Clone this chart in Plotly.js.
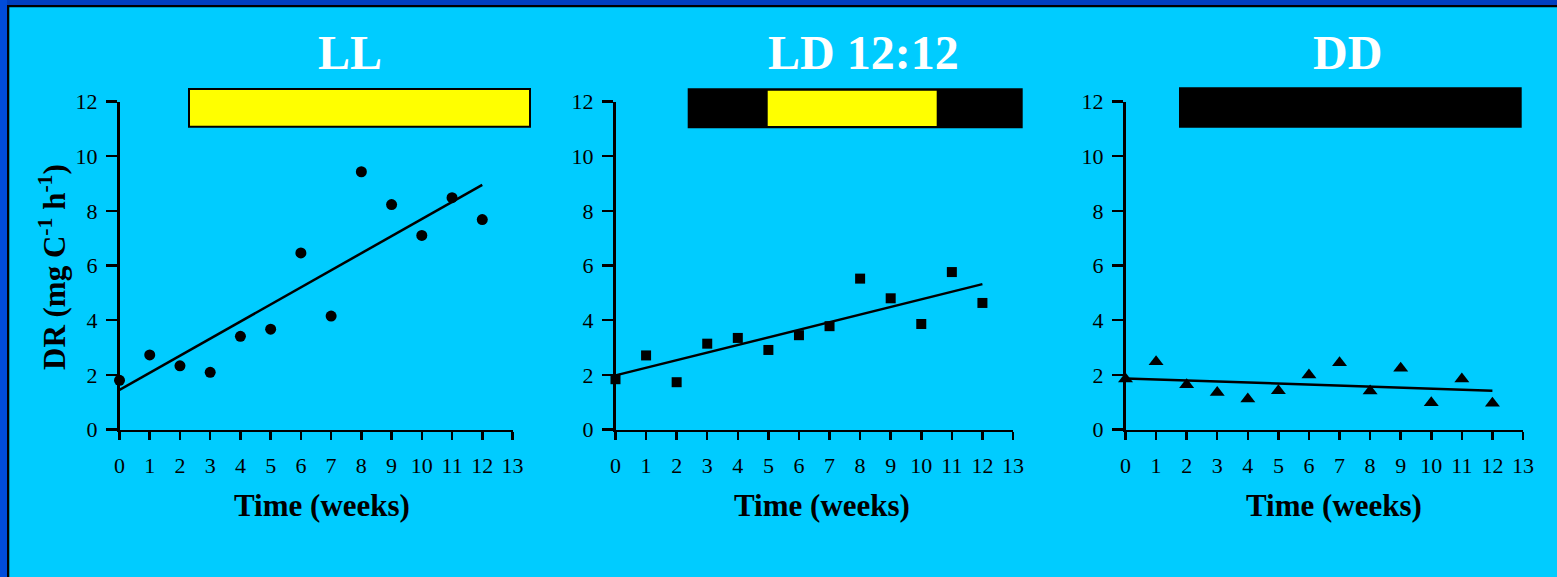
<!DOCTYPE html>
<html>
<head>
<meta charset="utf-8">
<script src="https://cdn.plot.ly/plotly-3.0.1.min.js"></script>
<style>
  html, body { margin: 0; padding: 0; background: #00CCFF; }
  #chart { width: 1557px; height: 577px; }
</style>
</head>
<body>
<div id="chart"></div>
<script>
// ---- data ----
const weeks = [0, 1, 2, 3, 4, 5, 6, 7, 8, 9, 10, 11, 12];
const xTickVals = [0, 1, 2, 3, 4, 5, 6, 7, 8, 9, 10, 11, 12, 13];
const yTickVals = [0, 2, 4, 6, 8, 10, 12];
const panelTitles = ["LL", "LD 12:12", "DD"];
const xAxisTitle = "Time (weeks)";
const yAxisTitle = "DR (mg C<sup>-1</sup> h<sup>-1</sup>)";

const llDR = [1.80, 2.73, 2.33, 2.09, 3.41, 3.67, 6.46, 4.15, 9.43, 8.23, 7.10, 8.48, 7.68];
const ldDR = [1.84, 2.71, 1.73, 3.14, 3.35, 2.91, 3.45, 3.78, 5.52, 4.80, 3.86, 5.76, 4.63];
const ddDR = [1.85, 2.48, 1.64, 1.35, 1.12, 1.42, 1.99, 2.44, 1.41, 2.24, 0.98, 1.85, 0.96];

const fitWeeks = [0, 12];
const llFit = [1.45, 8.95];
const ldFit = [1.98, 5.32];
const ddFit = [1.87, 1.42];

// ---- layout helpers ----
const W = 1557, H = 577;
const px = v => v / W;
const py = v => 1 - v / H;
const SERIF = "Liberation Serif, Times New Roman, serif";
const CYAN = "#00CCFF";

const xDomains = [[px(119.5), px(512.5)], [px(615.5), px(1013)], [px(1125.5), px(1523)]];
const yDomain = [py(429.5), py(101.5)];

function xAxis(i) {
  return {
    domain: xDomains[i], range: [0, 13], anchor: i === 0 ? "y" : "y" + (i + 1),
    tickmode: "array", tickvals: xTickVals, ticktext: xTickVals.map(String),
    showline: true, linecolor: "black", linewidth: 2.5,
    ticks: "outside", ticklen: 8, tickwidth: 2.5, tickcolor: "black",
    ticklabelstandoff: 7,
    showgrid: false, zeroline: false, fixedrange: true,
    tickfont: { family: SERIF, size: 22, color: "black" }
  };
}
function yAxis(i) {
  return {
    domain: yDomain, range: [0, 12], anchor: i === 0 ? "x" : "x" + (i + 1),
    tickmode: "array", tickvals: yTickVals, ticktext: yTickVals.map(String),
    showline: true, linecolor: "black", linewidth: 2.5,
    ticks: "outside", ticklen: 11, tickwidth: 2.5, tickcolor: "black",
    ticklabelstandoff: 4,
    showgrid: false, zeroline: false, fixedrange: true,
    tickfont: { family: SERIF, size: 22, color: "black" }
  };
}

const series = [
  { y: llDR, fit: llFit, symbol: "circle", size: 11 },
  { y: ldDR, fit: ldFit, symbol: "square", size: 10 },
  { y: ddDR, fit: ddFit, symbol: "triangle-up", size: 13 }
];

const traces = [];
series.forEach((s, i) => {
  const xa = i === 0 ? "x" : "x" + (i + 1);
  const ya = i === 0 ? "y" : "y" + (i + 1);
  traces.push({
    x: fitWeeks, y: s.fit, xaxis: xa, yaxis: ya, type: "scatter", mode: "lines",
    line: { color: "black", width: 2.5 }, cliponaxis: false, hoverinfo: "skip", showlegend: false
  });
  traces.push({
    x: weeks, y: s.y, xaxis: xa, yaxis: ya, type: "scatter", mode: "markers",
    marker: { color: "black", symbol: s.symbol, size: s.size, line: { width: 0 } },
    cliponaxis: false, showlegend: false
  });
});

function rect(x0, x1, y0, y1, fill, lineW) {
  return {
    type: "rect", xref: "paper", yref: "paper",
    x0: px(x0), x1: px(x1), y0: py(y1), y1: py(y0),
    fillcolor: fill, line: { color: "black", width: lineW || 0 }, layer: "above"
  };
}

const shapes = [
  // frame
  rect(0, W, 0, 5, "#0040C0"),
  rect(0, W, 5, 7.3, "black"),
  rect(0, 7, 0, H, "#004CDA"),
  rect(7, 9.3, 5, H, "black"),
  // light regime bars
  rect(189, 530, 89, 126.7, "#FFFF00", 2),
  rect(687.7, 1022.7, 88.3, 128.3, "black"),
  rect(767.7, 936.7, 90.7, 126, "#FFFF00"),
  rect(1179, 1521.7, 87.3, 127.7, "black")
];

const titleX = [350, 863, 1347];
const xTitleX = [322, 822, 1334];
const annotations = [];
panelTitles.forEach((t, i) => {
  annotations.push({
    text: "<b>" + t + "</b>", xref: "paper", yref: "paper",
    x: px(titleX[i]), y: py(52), xanchor: "center", yanchor: "middle",
    showarrow: false, font: { family: SERIF, size: 48, color: "white" }
  });
  annotations.push({
    text: "<b>" + xAxisTitle + "</b>", xref: "paper", yref: "paper",
    x: px(xTitleX[i]), y: py(505), xanchor: "center", yanchor: "middle",
    showarrow: false, font: { family: SERIF, size: 31, color: "black" }
  });
});
annotations.push({
  text: "<b>" + yAxisTitle + "</b>", xref: "paper", yref: "paper",
  x: px(52), y: py(267), xanchor: "center", yanchor: "middle", textangle: -90,
  showarrow: false, font: { family: SERIF, size: 31, color: "black" }
});

const layout = {
  width: W, height: H,
  margin: { l: 0, r: 0, t: 0, b: 0, pad: 0 },
  paper_bgcolor: CYAN, plot_bgcolor: "rgba(0,0,0,0)",
  showlegend: false,
  xaxis: xAxis(0), xaxis2: xAxis(1), xaxis3: xAxis(2),
  yaxis: yAxis(0), yaxis2: yAxis(1), yaxis3: yAxis(2),
  shapes: shapes, annotations: annotations,
  font: { family: SERIF }
};

Plotly.newPlot("chart", traces, layout, { displayModeBar: false, staticPlot: true });
</script>
</body>
</html>
